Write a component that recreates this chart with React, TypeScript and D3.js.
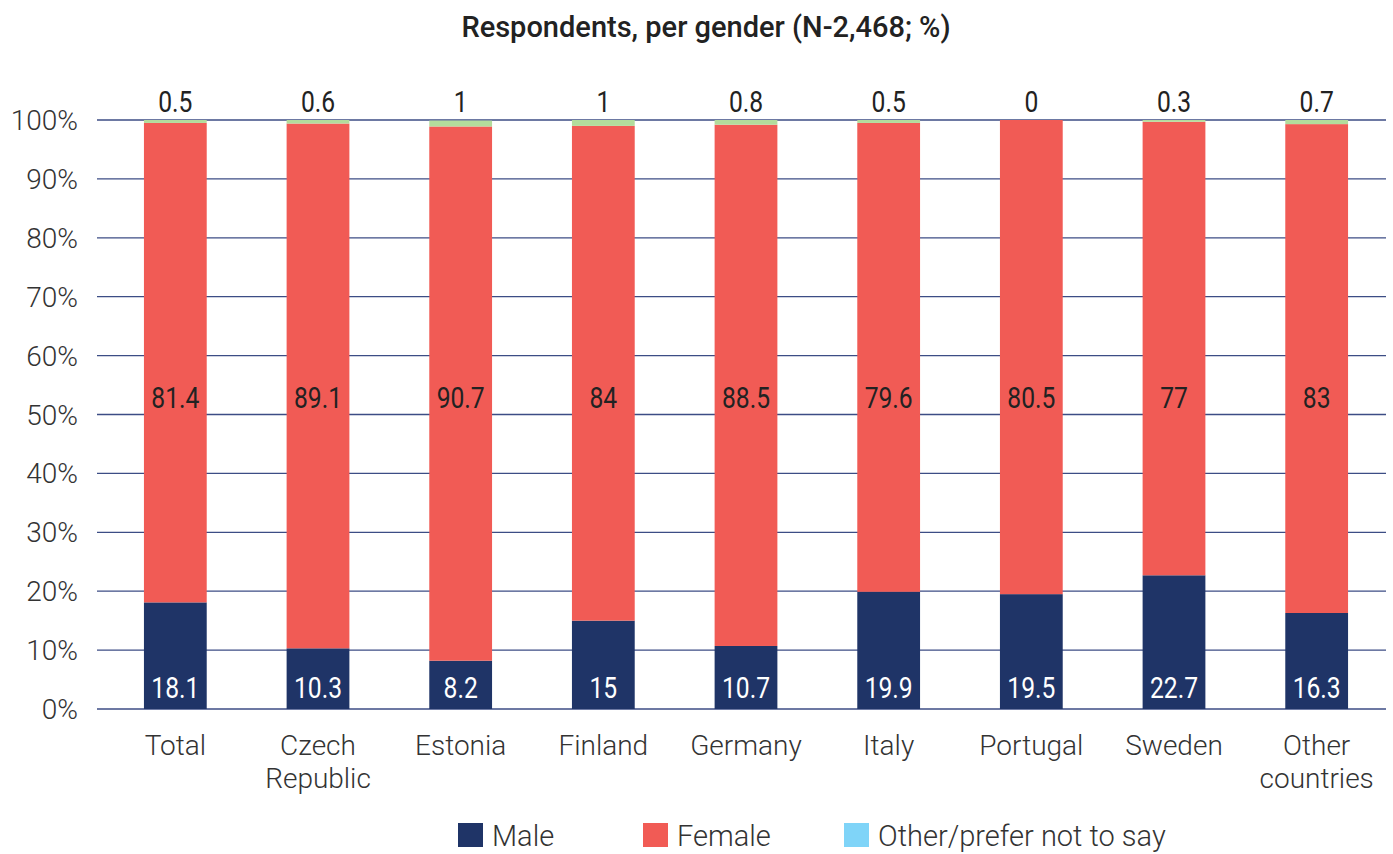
import React, { useEffect, useRef } from 'react'
import * as d3 from 'd3'

const countries = ['Total', 'Czech Republic', 'Estonia', 'Finland', 'Germany', 'Italy', 'Portugal', 'Sweden', 'Other countries']
const male = [18.1, 10.3, 8.2, 15, 10.7, 19.9, 19.5, 22.7, 16.3]
const female = [81.4, 89.1, 90.7, 84, 88.5, 79.6, 80.5, 77, 83]
const other = [0.5, 0.6, 1, 1, 0.8, 0.5, 0, 0.3, 0.7]
const yTicks = [0, 10, 20, 30, 40, 50, 60, 70, 80, 90, 100]
const seriesNames = ['Male', 'Female', 'Other/prefer not to say']

const W = 1393
const H = 854
const FONT = 'Roboto, sans-serif'
const colors = { male: '#1f3467', female: '#f15b55', other: '#b3dc9c', otherLegend: '#7fd4f8' }

export default function App() {
  const ref = useRef<SVGSVGElement>(null)

  useEffect(() => {
    const svg = d3.select(ref.current)
    svg.selectAll('*').remove()

    const x = d3.scaleBand<string>().domain(countries).range([104, 1388]).paddingInner(0.56).paddingOuter(0.28)
    const y = d3.scaleLinear().domain([0, 100]).range([709, 120])

    // title
    svg.append('text')
      .attr('x', 706).attr('y', 37)
      .attr('text-anchor', 'middle')
      .attr('font-family', FONT).attr('font-weight', 500).attr('font-size', 29)
      .attr('fill', '#222')
      .text('Respondents, per gender (N-2,468; %)')

    // gridlines + y labels
    const g = svg.append('g')
    yTicks.forEach(t => {
      g.append('line')
        .attr('x1', 97).attr('x2', 1386)
        .attr('y1', y(t)).attr('y2', y(t))
        .attr('stroke', '#3c4d85').attr('stroke-width', 1.3)
      g.append('text')
        .attr('x', 78).attr('y', y(t))
        .attr('dy', '0.36em')
        .attr('text-anchor', 'end')
        .attr('font-family', FONT).attr('font-weight', 300).attr('font-size', 28)
        .attr('fill', '#333')
        .text(t + '%')
    })

    // stacked bars
    const rows = countries.map((c, i) => ({ c, male: male[i], female: female[i], other: other[i] }))
    const stack = d3.stack<any>().keys(['male', 'female', 'other'])(rows)
    const fills = [colors.male, colors.female, colors.other]
    stack.forEach((s, si) => {
      svg.append('g').selectAll('rect').data(s).join('rect')
        .attr('x', d => x(d.data.c)!)
        .attr('width', x.bandwidth())
        .attr('y', d => y(d[1]))
        .attr('height', d => y(d[0]) - y(d[1]))
        .attr('fill', fills[si])
    })

    // value labels (condensed look)
    const label = (cx: number, cy: number, txt: string, fill: string) => {
      svg.append('text')
        .attr('transform', `translate(${cx},${cy}) scale(0.85,1)`)
        .attr('text-anchor', 'middle')
        .attr('font-family', FONT).attr('font-weight', 400).attr('font-size', 29)
        .attr('fill', fill)
        .text(txt)
    }
    rows.forEach(r => {
      const cx = x(r.c)! + x.bandwidth() / 2
      label(cx, 698, String(r.male), '#fff')
      label(cx, 408, String(r.female), '#222')
      label(cx, 112, String(r.other), '#222')
    })

    // x labels
    countries.forEach(c => {
      const cx = x(c)! + x.bandwidth() / 2
      const words = c.split(' ')
      words.forEach((w, wi) => {
        svg.append('text')
          .attr('x', cx).attr('y', 755 + wi * 33)
          .attr('text-anchor', 'middle')
          .attr('font-family', FONT).attr('font-weight', 300).attr('font-size', 28)
          .attr('fill', '#333')
          .text(w)
      })
    })

    // legend
    const legendX = [458, 643, 844]
    const legendFill = [colors.male, colors.female, colors.otherLegend]
    seriesNames.forEach((n, i) => {
      svg.append('rect')
        .attr('x', legendX[i]).attr('y', 823)
        .attr('width', 25).attr('height', 24)
        .attr('fill', legendFill[i])
      svg.append('text')
        .attr('x', legendX[i] + 34).attr('y', 846)
        .attr('font-family', FONT).attr('font-weight', 300).attr('font-size', 29)
        .attr('fill', '#333')
        .text(n)
    })
  }, [])

  return (
    <svg ref={ref} width={W} height={H} style={{ position: 'absolute', left: 0, top: 0, background: '#fff' }} />
  )
}
